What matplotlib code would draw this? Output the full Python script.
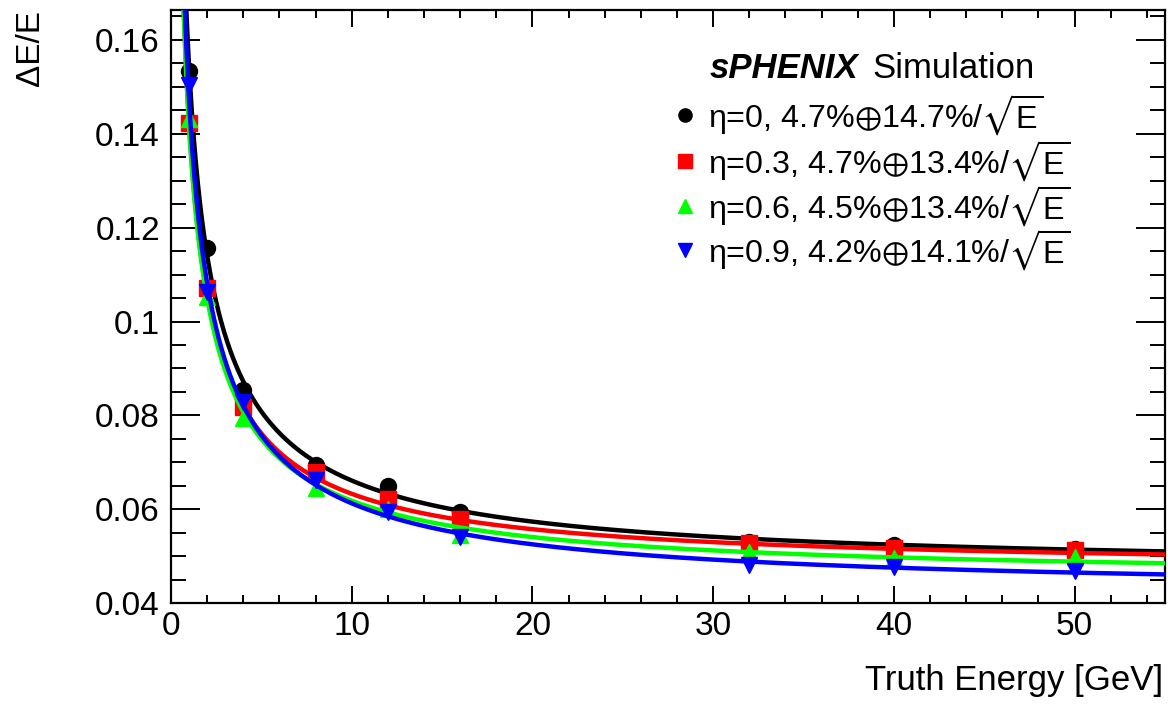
import numpy as np
import matplotlib
matplotlib.use("Agg")
from matplotlib import pyplot as plt
from matplotlib.ticker import MultipleLocator, FuncFormatter

plt.rcParams['font.family'] = ['Liberation Sans', 'DejaVu Sans']
plt.rcParams['mathtext.fontset'] = 'custom'
plt.rcParams['mathtext.rm'] = 'Liberation Sans'
plt.rcParams['mathtext.it'] = 'Liberation Sans:italic'
plt.rcParams['mathtext.fallback'] = 'stixsans'

# --- data ---
energia = [1, 2, 4, 8, 12, 16, 32, 40, 50]
res_eta0 = [0.1534, 0.1156, 0.0854, 0.0694, 0.0649, 0.0595, 0.0531, 0.0524, 0.0515]
res_eta03 = [0.1424, 0.1071, 0.0818, 0.0680, 0.0621, 0.0580, 0.0527, 0.0517, 0.0514]
res_eta06 = [0.1432, 0.1053, 0.0794, 0.0645, 0.0600, 0.0546, 0.0509, 0.0495, 0.0499]
res_eta09 = [0.1504, 0.1063, 0.0829, 0.0662, 0.0595, 0.0540, 0.0481, 0.0476, 0.0469]

# fit parameters (constant term, stochastic term) from the legend
const_term = [0.047, 0.047, 0.045, 0.042]
stoch_term = [0.147, 0.134, 0.134, 0.141]

etiquetas = ["η=0, 4.7%$\\oplus$14.7%/$\\sqrt{\\rm E}$",
             "η=0.3, 4.7%$\\oplus$13.4%/$\\sqrt{\\rm E}$",
             "η=0.6, 4.5%$\\oplus$13.4%/$\\sqrt{\\rm E}$",
             "η=0.9, 4.2%$\\oplus$14.1%/$\\sqrt{\\rm E}$"]
colores = ['black', '#ff0000', '#00ff00', '#0000ff']
marcadores = ['o', 's', '^', 'v']
series = [res_eta0, res_eta03, res_eta06, res_eta09]

fig = plt.figure(figsize=(11.68, 7.07), dpi=100)
ax = fig.add_axes([0.1464, 0.147, 0.851, 0.839])

e_curva = np.linspace(0.2, 55, 2000)
for i in range(4):
    curva = np.sqrt(const_term[i]**2 + stoch_term[i]**2 / e_curva)
    ax.plot(e_curva, curva, color=colores[i], lw=3.2, zorder=2 + 2*i)
    ax.plot(energia, series[i], linestyle='none', marker=marcadores[i],
            color=colores[i], ms=11.5, mec=colores[i], zorder=3 + 2*i)

ax.set_xlim(0, 55)
ax.set_ylim(0.04, 0.1664)

ax.xaxis.set_major_locator(MultipleLocator(10))
ax.xaxis.set_minor_locator(MultipleLocator(2))
ax.yaxis.set_major_locator(MultipleLocator(0.02))
ax.yaxis.set_minor_locator(MultipleLocator(0.005))
ax.yaxis.set_major_formatter(FuncFormatter(lambda v, p: "%g" % round(v, 3)))

ax.tick_params(which='both', direction='in', top=True, right=True, width=1.4)
ax.tick_params(axis='x', which='major', length=12, labelsize=24, pad=6)
ax.tick_params(axis='x', which='minor', length=6)
ax.tick_params(axis='y', which='major', length=21, labelsize=24, pad=8)
ax.tick_params(axis='y', which='minor', length=10.5)
for s in ax.spines.values():
    s.set_linewidth(1.6)

fig.text(1163/1168, 1 - 690/707, "Truth Energy [GeV]", ha='right', va='baseline', fontsize=25)
fig.text(30/1168, 1 - 10/707, "ΔE/E", ha='center', va='top', rotation=90, fontsize=24)

# legend drawn by hand
t1 = fig.text(710/1168, 1 - 78/707, "sPHENIX", fontsize=25, fontweight='bold',
              fontstyle='italic', ha='left', va='baseline')
fig.canvas.draw()
bb = t1.get_window_extent()
fig.text((bb.x1 + 14)/1168, 1 - 78/707, "Simulation", fontsize=25, ha='left', va='baseline')

filas_y = [115, 161, 206, 250]
for i in range(4):
    yy = 1 - filas_y[i]/707
    fig.lines.append(plt.Line2D([685/1168], [yy], marker=marcadores[i], color=colores[i],
                                ms=9.5, linestyle='none', transform=fig.transFigure))
    fig.text(708/1168, yy, etiquetas[i], fontsize=23.2, ha='left', va='center')

fig.savefig("out.png", dpi=100)
